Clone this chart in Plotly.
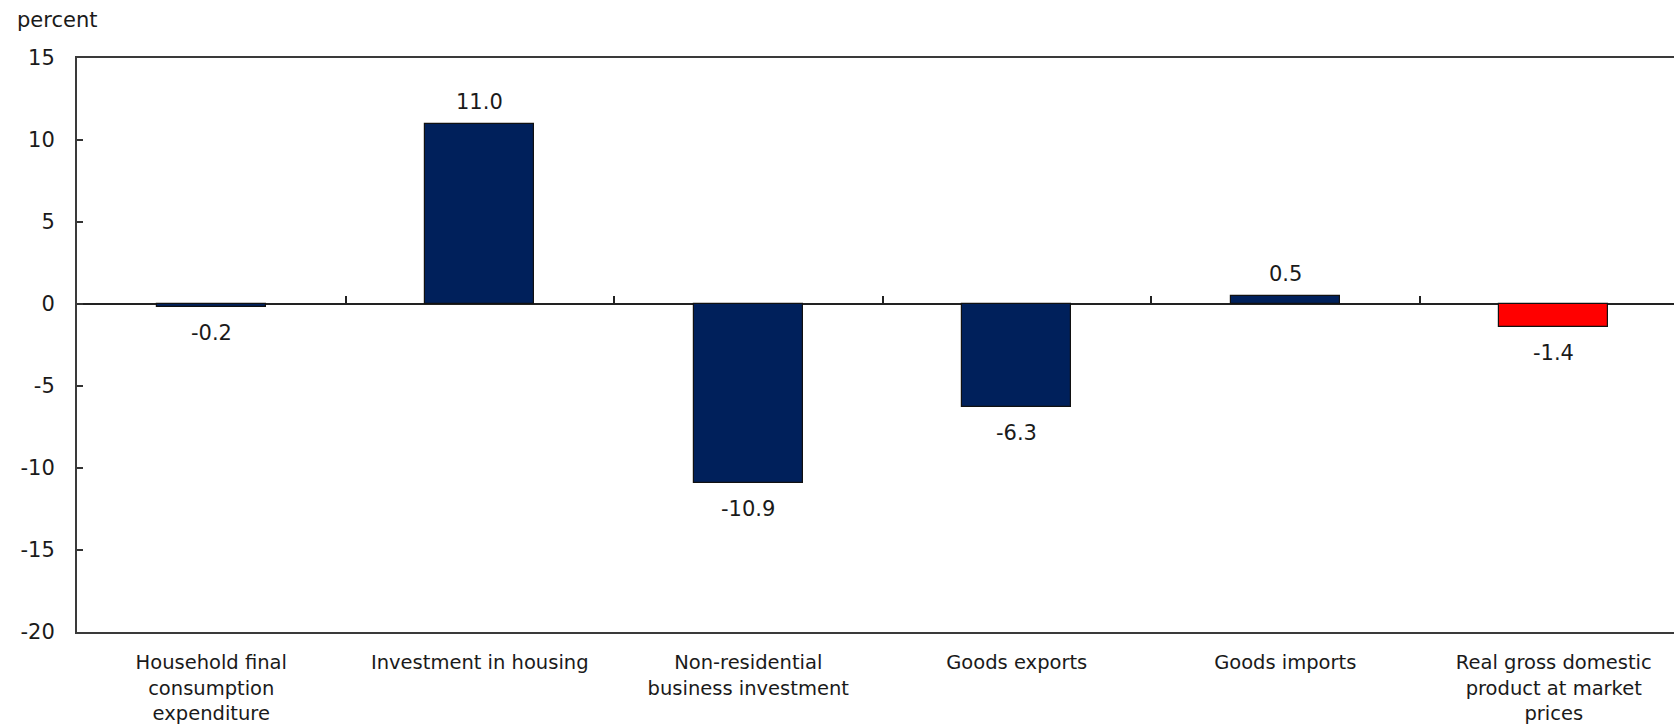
import plotly.graph_objects as go

# Contributions to change, percent
categories = [
    "Household final<br>consumption<br>expenditure",
    "Investment in housing",
    "Non-residential<br>business investment",
    "Goods exports",
    "Goods imports",
    "Real gross domestic<br>product at market<br>prices",
]
values = [-0.2, 11.0, -10.9, -6.3, 0.5, -1.4]
highlight = [False, False, False, False, False, True]
y_ticks = [15, 10, 5, 0, -5, -10, -15, -20]

NAVY = "#00205b"
RED = "#ff0000"
TEXT = "#1a1a1a"
FONT = "DejaVu Sans, Verdana, sans-serif"
FS = 21

W, H = 1674, 725
left, top, bottom = 77, 58, 93
plot_w = W - left
plot_h = H - top - bottom
cat_w = 268.5  # pixel width of one category slot
x_max = -0.5 + plot_w / cat_w
y_min, y_max = -20, 15

xs = list(range(len(values)))
colors = [RED if h else NAVY for h in highlight]

fig = go.Figure()
fig.add_trace(go.Bar(
    x=xs, y=values, width=0.405,
    marker=dict(color=colors, line=dict(color="#111111", width=1.2)),
    hoverinfo="skip", showlegend=False,
))
# invisible trace so the boundary-tick axis is drawn
fig.add_trace(go.Scatter(x=[0], y=[0], xaxis="x2", mode="markers",
                         marker=dict(opacity=0), hoverinfo="skip", showlegend=False))

# value labels
for x, v in zip(xs, values):
    fig.add_annotation(
        x=x, y=v, text=f"{v:.1f}", showarrow=False,
        yanchor="middle", yshift=22 if v >= 0 else -26,
        font=dict(family=FONT, size=FS, color=TEXT),
    )

fig.add_annotation(
    xref="paper", yref="paper",
    x=(15 - left) / plot_w, y=1 + (top - 20) / plot_h,
    xanchor="left", yanchor="middle", text="percent", showarrow=False,
    font=dict(family=FONT, size=FS, color=TEXT),
)

fig.update_layout(
    width=W, height=H,
    margin=dict(l=left, r=0, t=top, b=bottom, pad=0, autoexpand=False),
    paper_bgcolor="white", plot_bgcolor="white",
    font=dict(family=FONT, size=FS, color=TEXT),
    bargap=0,
    xaxis=dict(
        range=[-0.5, x_max], tickmode="array", tickvals=xs, ticktext=categories,
        tickfont=dict(size=19.5),
        showgrid=False, zeroline=False, ticks="", automargin=False,
        showline=True, linecolor="#3a3a3a", linewidth=2, mirror=True,
        ticklabelstandoff=12,
    ),
    xaxis2=dict(
        overlaying="x", anchor="free", side="bottom",
        position=(0 - y_min) / (y_max - y_min),
        range=[-0.5, x_max], tickmode="array",
        tickvals=[x + 0.5 for x in xs[:-1]],
        ticks="inside", ticklen=8, tickwidth=1.5, tickcolor="#222222",
        showticklabels=False, showline=False, showgrid=False, zeroline=False,
        automargin=False,
    ),
    yaxis=dict(
        range=[y_min, y_max], tickmode="array", tickvals=y_ticks,
        ticktext=[str(t) for t in y_ticks],
        showgrid=False, zeroline=True, zerolinecolor="#222222", zerolinewidth=1.5,
        ticks="inside", ticklen=6, tickwidth=1.5, tickcolor="#333333",
        showline=True, linecolor="#3a3a3a", linewidth=2, mirror=False,
        ticklabelstandoff=16, automargin=False,
    ),
)

fig.write_html("out.html")
